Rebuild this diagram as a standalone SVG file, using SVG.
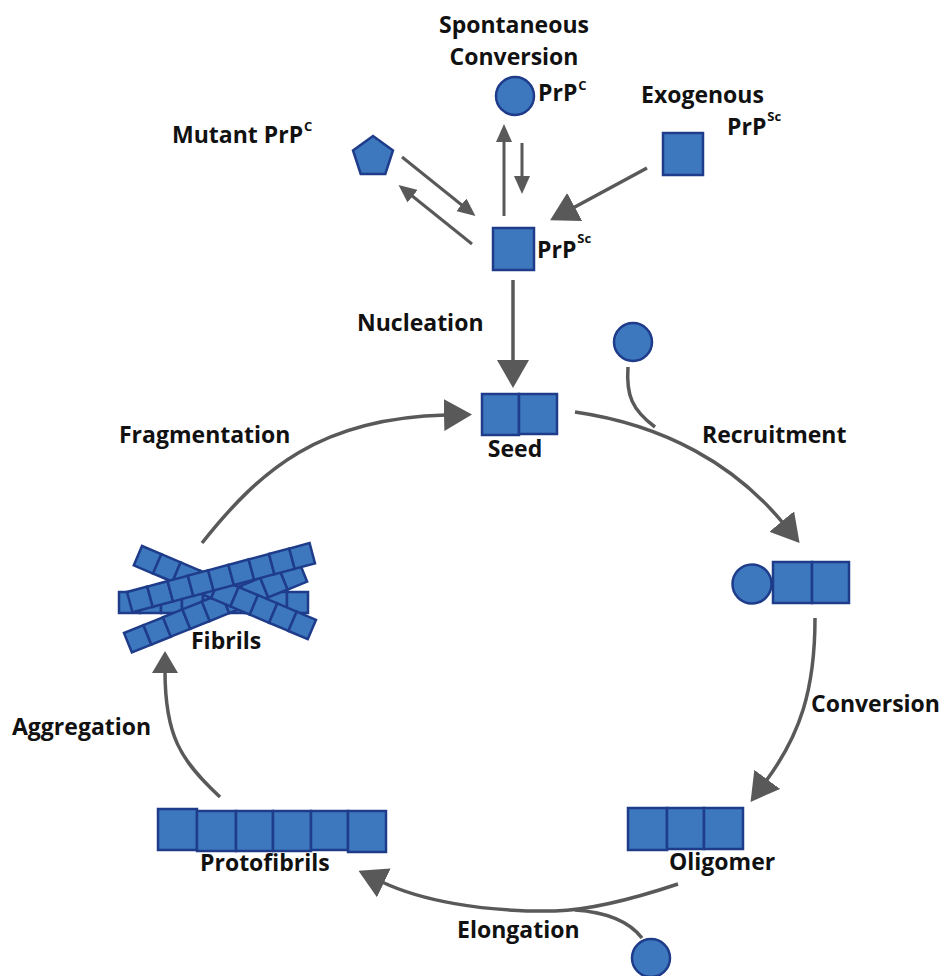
<svg xmlns="http://www.w3.org/2000/svg" width="943" height="976" viewBox="0 0 943 976">
<style>
.sq{fill:#3D78BF;stroke:#1E3C8A;stroke-width:2.5}
.ln{fill:none;stroke:#595959;stroke-width:3.5}
.lt{fill:none;stroke:#595959;stroke-width:3}
.t{font-family:"Open Sans","Noto Sans","Liberation Sans",sans-serif;font-weight:700;font-size:23px;fill:#111}
.s{font-size:13px}
.m{text-anchor:middle}
</style>
<defs>
<marker id="ahL" viewBox="0 0 28 32" refX="2" refY="16" markerWidth="28" markerHeight="32" markerUnits="userSpaceOnUse" orient="auto"><path d="M0,0 L28,16 L0,32 z" fill="#595959"/></marker>
<marker id="ahM" viewBox="0 0 22 26" refX="2" refY="13" markerWidth="22" markerHeight="26" markerUnits="userSpaceOnUse" orient="auto"><path d="M0,0 L22,13 L0,26 z" fill="#595959"/></marker>
<marker id="ahS" viewBox="0 0 18 16" refX="2" refY="8" markerWidth="18" markerHeight="16" markerUnits="userSpaceOnUse" orient="auto"><path d="M0,0 L18,8 L0,16 z" fill="#595959"/></marker>
<g id="row9">
<rect class="sq" x="0" y="0" width="21" height="21"/><rect class="sq" x="21" y="0" width="21" height="21"/><rect class="sq" x="42" y="0" width="21" height="21"/><rect class="sq" x="63" y="0" width="21" height="21"/><rect class="sq" x="84" y="0" width="21" height="21"/><rect class="sq" x="105" y="0" width="21" height="21"/><rect class="sq" x="126" y="0" width="21" height="21"/><rect class="sq" x="147" y="0" width="21" height="21"/><rect class="sq" x="168" y="0" width="21" height="21"/>
</g>
</defs>

<g id="connectors">
<path class="lt" d="M402,157 L463,206" marker-end="url(#ahS)"/>
<path class="lt" d="M472,244 L411,195" marker-end="url(#ahS)"/>
<path class="lt" d="M504,216 L504,140" marker-end="url(#ahS)"/>
<path class="lt" d="M522,143 L522,178" marker-end="url(#ahS)"/>
<path class="ln" d="M647,168 L573,208" marker-end="url(#ahL)"/>
<path class="ln" d="M513,280 L513,362" marker-end="url(#ahL)"/>
<path class="ln" d="M575,412 C665,425 735,465 783,523" marker-end="url(#ahL)"/>
<path class="ln" d="M628,367 C626,395 632,410 655,427"/>
<path class="ln" d="M815,618 C815,690 800,735 766,781" marker-end="url(#ahL)"/>
<path class="ln" d="M678,884 C630,900 590,910 555,911 C480,912 420,900 382,882" marker-end="url(#ahL)"/>
<path class="ln" d="M642,938 C628,920 605,912 575,910"/>
<path class="ln" d="M220,797 C180,760 165,735 165,671" marker-end="url(#ahM)"/>
<path class="ln" d="M202,543 C260,470 320,418 446,415" marker-end="url(#ahL)"/>
</g>

<g id="spontaneous-conversion">
<text class="t m" x="514" y="33">Spontaneous</text>
<text class="t m" x="514" y="65">Conversion</text>
</g>
<g id="prpc">
<circle class="sq" cx="515" cy="96" r="19"/>
<text class="t" x="538" y="101">PrP<tspan class="s" dx="1" dy="-11">C</tspan></text>
</g>
<g id="mutant-prpc">
<polygon class="sq" points="373,136 393,150.5 385.3,174 360.7,174 353,150.5"/>
<text class="t" x="172" y="143">Mutant PrP<tspan class="s" dx="1" dy="-12">C</tspan></text>
</g>
<g id="exogenous-prpsc">
<rect class="sq" x="663" y="133" width="40" height="42"/>
<text class="t" x="641" y="103">Exogenous</text>
<text class="t" x="727" y="135">PrP<tspan class="s" dx="1" dy="-14">Sc</tspan></text>
</g>
<g id="prpsc">
<rect class="sq" x="493" y="228" width="41" height="42"/>
<text class="t" x="537" y="258">PrP<tspan class="s" dx="1" dy="-15">Sc</tspan></text>
</g>
<g id="nucleation-label"><text class="t" x="357" y="331">Nucleation</text></g>
<g id="seed">
<rect class="sq" x="482" y="394" width="37" height="41"/>
<rect class="sq" x="519" y="394" width="38" height="40"/>
<text class="t m" x="515" y="457">Seed</text>
</g>
<g id="recruit-monomer"><circle class="sq" cx="633" cy="342" r="19"/></g>
<g id="recruitment-label"><text class="t" x="702" y="443">Recruitment</text></g>
<g id="seed-plus-monomer">
<circle class="sq" cx="752" cy="584" r="19.5"/>
<rect class="sq" x="773" y="562" width="39" height="41"/>
<rect class="sq" x="812" y="562" width="37" height="41"/>
</g>
<g id="conversion-label"><text class="t" x="811" y="712">Conversion</text></g>
<g id="oligomer">
<rect class="sq" x="628" y="808" width="39" height="42"/>
<rect class="sq" x="667" y="808" width="37" height="41"/>
<rect class="sq" x="704" y="808" width="39" height="41"/>
<text class="t" x="669" y="870">Oligomer</text>
</g>
<g id="elongation-monomer"><circle class="sq" cx="651" cy="958" r="19"/></g>
<g id="elongation-label"><text class="t" x="457" y="938">Elongation</text></g>
<g id="protofibrils">
<rect class="sq" x="158" y="809" width="39" height="41"/>
<rect class="sq" x="197" y="811" width="39" height="40"/>
<rect class="sq" x="236" y="811" width="37" height="40"/>
<rect class="sq" x="273" y="811" width="38" height="40"/>
<rect class="sq" x="311" y="811" width="37" height="39"/>
<rect class="sq" x="348" y="811" width="38" height="41"/>
<text class="t" x="200" y="871">Protofibrils</text>
</g>
<g id="aggregation-label"><text class="t" x="12" y="735">Aggregation</text></g>
<g id="fibrils">
<use href="#row9" transform="translate(119,592)"/>
<use href="#row9" transform="translate(124,633) rotate(-22)"/>
<use href="#row9" transform="translate(142,546) rotate(23)"/>
<use href="#row9" transform="translate(127,592) rotate(-15)"/>
<text class="t" x="191" y="649">Fibrils</text>
</g>
<g id="fragmentation-label"><text class="t" x="119" y="443">Fragmentation</text></g>
</svg>
